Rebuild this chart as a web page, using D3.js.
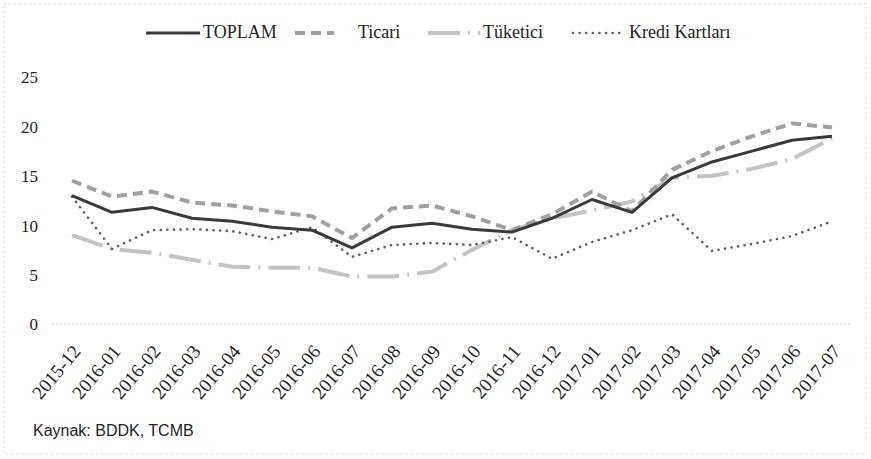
<!DOCTYPE html>
<html><head><meta charset="utf-8">
<script src="https://cdn.jsdelivr.net/npm/d3@7"></script>
<style>body{margin:0;background:#fff} .serif text, text.serif{font-family:'Liberation Serif','DejaVu Serif',serif}</style>
</head><body>
<svg id="c" width="871" height="459"></svg>
<script>
const categories = ["2015-12","2016-01","2016-02","2016-03","2016-04","2016-05","2016-06","2016-07","2016-08","2016-09","2016-10","2016-11","2016-12","2017-01","2017-02","2017-03","2017-04","2017-05","2017-06","2017-07"];
const toplam   = [13.0,11.3,11.8,10.7,10.4,9.8,9.5,7.7,9.8,10.2,9.6,9.3,10.7,12.6,11.3,14.8,16.4,17.5,18.6,19.0];
const ticari   = [14.5,12.9,13.4,12.3,12.0,11.4,10.9,8.7,11.7,12.0,10.9,9.5,11.1,13.4,11.4,15.6,17.5,19.0,20.3,19.9];
const tuketici = [9.0,7.6,7.2,6.5,5.8,5.7,5.7,4.8,4.8,5.3,7.5,9.5,10.7,11.5,12.4,14.8,15.0,15.7,16.7,18.8];
const krediKartlari = [12.9,7.6,9.5,9.6,9.4,8.6,9.8,6.8,8.0,8.2,8.0,8.8,6.6,8.3,9.5,11.1,7.4,8.1,8.9,10.4];
const seriesNames = ["TOPLAM","Ticari","Tüketici","Kredi Kartları"];
const yTicks = [0,5,10,15,20,25];
const sourceText = "Kaynak: BDDK, TCMB";

const svg = d3.select("#c");
const serif = "'Liberation Serif','DejaVu Serif',serif";

// faint scan border
svg.append("rect").attr("x",4).attr("y",4).attr("width",862).attr("height",450)
  .attr("fill","none").attr("stroke","#d8d8d8").attr("stroke-width",1).attr("stroke-dasharray","2,3");

const x = d3.scalePoint().domain(categories).range([72, 832]);
const y = d3.scaleLinear().domain([0,25]).range([324, 77]);

// zero gridline
svg.append("line").attr("x1",52).attr("x2",850).attr("y1",y(0)).attr("y2",y(0))
  .attr("stroke","#cfcfcf").attr("stroke-width",1.2).attr("stroke-dasharray","2,2");

// y axis labels
const yAxis = d3.axisLeft(y).tickValues(yTicks).tickSize(0).tickPadding(0);
const gy = svg.append("g").attr("class","serif").attr("transform","translate(38,0)").call(yAxis);
gy.attr("font-family",null);
gy.select(".domain").remove();
gy.selectAll("text").style("font-family",serif).style("font-size","17px").attr("fill","#222").attr("dy","0.35em");

// x axis labels
const xAxis = d3.axisBottom(x).tickSize(0).tickPadding(0);
const gx = svg.append("g").attr("class","serif").call(xAxis);
gx.attr("font-family",null);
gx.select(".domain").remove();
gx.selectAll("text")
  .style("font-family",serif).style("font-size","19px").attr("fill","#222")
  .attr("text-anchor","end").attr("dy",0).attr("y",0)
  .attr("transform",`translate(9,352) rotate(-50)`);

const styles = [
  {data: toplam, color:"#3a3a3a", width:3, dash:null, cap:"butt"},
  {data: ticari, color:"#a0a0a0", width:4, dash:"10,6", cap:"butt"},
  {data: tuketici, color:"#c4c4c4", width:4, dash:"32,8,2,8", cap:"butt"},
  {data: krediKartlari, color:"#606060", width:2.6, dash:"0.1,6.5", cap:"round"}
];
const line = d3.line().x((d,i)=>x(categories[i])).y(d=>y(d));
// draw order: Tüketici, Ticari, Kredi, TOPLAM
[2,1,3,0].forEach(k=>{
  const s = styles[k];
  svg.append("path").datum(s.data).attr("d",line).attr("fill","none")
    .attr("stroke",s.color).attr("stroke-width",s.width)
    .attr("stroke-dasharray",s.dash).attr("stroke-linecap",s.cap).attr("stroke-linejoin","round");
});

// legend
const legend = [
  {x1:146, x2:200, tx:203},
  {x1:295, x2:334, tx:358},
  {x1:428, x2:480, tx:483},
  {x1:573, x2:623, tx:629}
];
legend.forEach((l,k)=>{
  const s = styles[k];
  svg.append("line").attr("x1",l.x1).attr("x2",l.x2).attr("y1",33).attr("y2",33)
    .attr("stroke",s.color).attr("stroke-width",s.width)
    .attr("stroke-dasharray",s.dash).attr("stroke-linecap",s.cap);
  svg.append("text").attr("x",l.tx).attr("y",38).text(seriesNames[k])
    .style("font-family",serif).style("font-size","18px").attr("fill","#222");
});

svg.append("text").attr("x",33).attr("y",436).text(sourceText)
  .style("font-family","'Liberation Sans',Arial,sans-serif").style("font-size","16px").attr("fill","#222");
</script>
</body></html>
